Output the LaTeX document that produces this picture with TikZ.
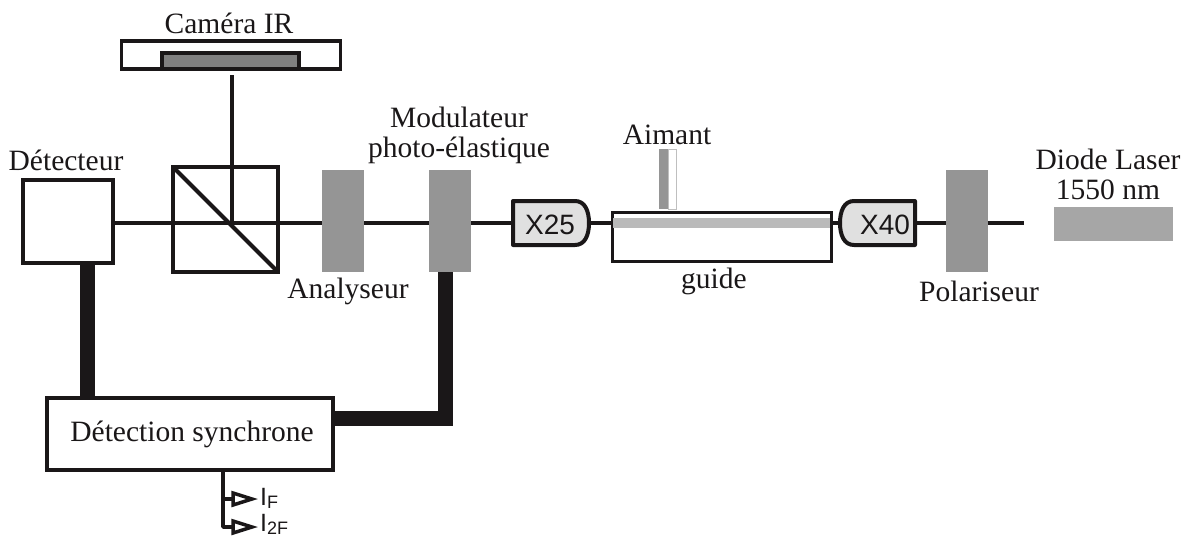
\documentclass[tikz,border=0pt]{standalone}
\usepackage{fontspec}
\setmainfont{Liberation Serif}
\setsansfont{Liberation Sans}
\usetikzlibrary{calc}
\definecolor{ink}{HTML}{1A1718}
\definecolor{midgray}{HTML}{959595}
\tikzset{
  x=1pt,y=-1pt,
  txt/.style={font=\fontsize{29.5}{30}\selectfont,inner sep=0pt,text=ink,align=center},
  sanstxt/.style={font=\sffamily\fontsize{28}{30}\selectfont,inner sep=0pt,text=ink},
  box/.style={draw=ink,line width=3.5pt,fill=white,inner sep=0pt,outer sep=0pt},
  plate/.style={fill=midgray,inner sep=0pt,outer sep=0pt,minimum width=42pt,minimum height=102pt},
  beam/.style={draw=ink,line width=4pt},
  cable/.style={draw=ink,line width=15pt},
  lens/.style={draw=ink,line width=4pt,fill=black!12,line join=round},
  thinl/.style={draw=ink,line width=3.5pt,line join=round},
  tip/.style={draw=ink,line width=3.5pt,fill=white,line join=miter},
  subl/.style={anchor=base west,inner sep=0pt,text=ink,font=\sffamily\fontsize{25}{26}\selectfont},
}
\newcommand{\subf}[1]{{\fontsize{18}{20}\selectfont\raisebox{-3pt}{#1}}}
\begin{document}
\begin{tikzpicture}
\useasboundingbox (0,0) rectangle (1190,538);
\node[plate] (ana) at (343,221) {};
\node[plate] (mod) at (450,221) {};
\node[plate] (pol) at (966.5,221) {};
\node[box,minimum width=90pt,minimum height=83pt] (det) at (68,221.5) {};
\node[inner sep=0,outer sep=0,minimum width=76pt,minimum height=44pt] (xa) at (551,223) {};
\node[inner sep=0,outer sep=0,minimum width=75pt,minimum height=44pt] (xb) at (877.5,223) {};
\node[box,line width=3pt,minimum width=219pt,minimum height=49pt] (guide) at (721.5,236.5) {};
\coordinate (beamy) at (0,223);
\coordinate (end) at (1024,223);
\coordinate (camfoot) at (231.5,75);
\coordinate (split) at (231.5,223);
\node[draw=ink,line width=4pt,inner sep=0,outer sep=0,minimum width=105pt,minimum height=105pt] (cube) at (225.5,219.5) {};
\draw[line width=4pt,draw=ink] (cube.north west) -- (cube.south east);
\draw[beam] (det.east |- beamy) -- (ana.west |- beamy);
\draw[beam] (ana.east |- beamy) -- (mod.west |- beamy);
\draw[beam] (mod.east |- beamy) -- (xa.west);
\draw[beam] (xa.east) -- (guide.west |- xa.east);
\draw[beam] (guide.east |- xb.west) -- (xb.west);
\draw[beam] (xb.east) -- (pol.west |- beamy);
\draw[beam] (pol.east |- beamy) -- (end);
\draw[beam] (camfoot) -- (split);
% camera
\node[box,minimum width=219pt,minimum height=28pt] (cam) at (231,55) {};
\node[box,fill=black!50,minimum width=137pt,minimum height=16pt] (sensor) at (230.5,61) {};
% lenses
\draw[lens] (xa.south west) -- (xa.north west) -- ($(xa.north east)+(-14,0)$)
  .. controls ($(xa.north east)+(-4,0)$) and ($(xa.east)+(0,-12)$) .. (xa.east)
  .. controls ($(xa.east)+(0,12)$) and ($(xa.south east)+(-4,0)$) .. ($(xa.south east)+(-14,0)$) -- cycle;
\draw[lens] (xb.south east) -- (xb.north east) -- ($(xb.north west)+(14,0)$)
  .. controls ($(xb.north west)+(4,0)$) and ($(xb.west)+(0,-12)$) .. (xb.west)
  .. controls ($(xb.west)+(0,12)$) and ($(xb.south west)+(4,0)$) .. ($(xb.south west)+(14,0)$) -- cycle;
\node[sanstxt] (xal) at (550,224.5) {X25};
\node[sanstxt] (xbl) at (885,224.5) {X40};
% guide
\node[fill=black!27,inner sep=0,outer sep=0,minimum width=217pt,minimum height=10pt] (core) at (721.5,223) {};
% magnet
\node[fill=midgray,inner sep=0,outer sep=0,minimum width=9pt,minimum height=60pt] (magnet) at (663.5,179) {};
\node[draw=black!25,line width=1pt,fill=white,inner sep=0,outer sep=0,minimum width=8pt,minimum height=60pt] (magnetb) at (672,179) {};
% laser
\node[fill=black!35,inner sep=0,outer sep=0,minimum width=119pt,minimum height=34pt] (laser) at (1113.5,224) {};
% synchro
\node[box,minimum width=286pt,minimum height=72pt] (sync) at (190,434) {};
\draw[cable] (det.south -| 87,0) -- (sync.north -| 87,0);
\draw[cable] (sync.east |- 0,418) -- (445,418) -- (mod.south -| 445,0);
% outputs
\coordinate (stub) at (223,470);
\coordinate (tipa) at (252,499);
\coordinate (tipb) at (252,527);
\draw[thinl] (stub) -- (223,527) -- (233,527);
\draw[thinl] (223,499) -- (233,499);
\draw[tip] (233,493) -- (tipa) -- (233,505) -- cycle;
\draw[tip] (233,521) -- (tipb) -- (233,533) -- cycle;
\node[subl] (if) at (260,505) {I\subf{F}};
\node[subl] (i2f) at (260,531) {I\subf{2F}};
% labels
\node[txt] (lcam) at (229,23) {Caméra IR};
\node[txt] (ldet) at (66,160) {Détecteur};
\node[txt] (lmod) at (459,135) {Modulateur\\photo-élastique};
\node[txt] (laim) at (667,135) {Aimant};
\node[txt] (lana) at (348,291) {Analyseur};
\node[txt] (lgui) at (714,281) {guide};
\node[txt] (lpol) at (979,291) {Polariseur};
\node[txt] (llas) at (1108,174) {Diode Laser\\1550 nm};
\node[txt] (lsyn) at (192,434) {Détection synchrone};
\end{tikzpicture}
\end{document}
